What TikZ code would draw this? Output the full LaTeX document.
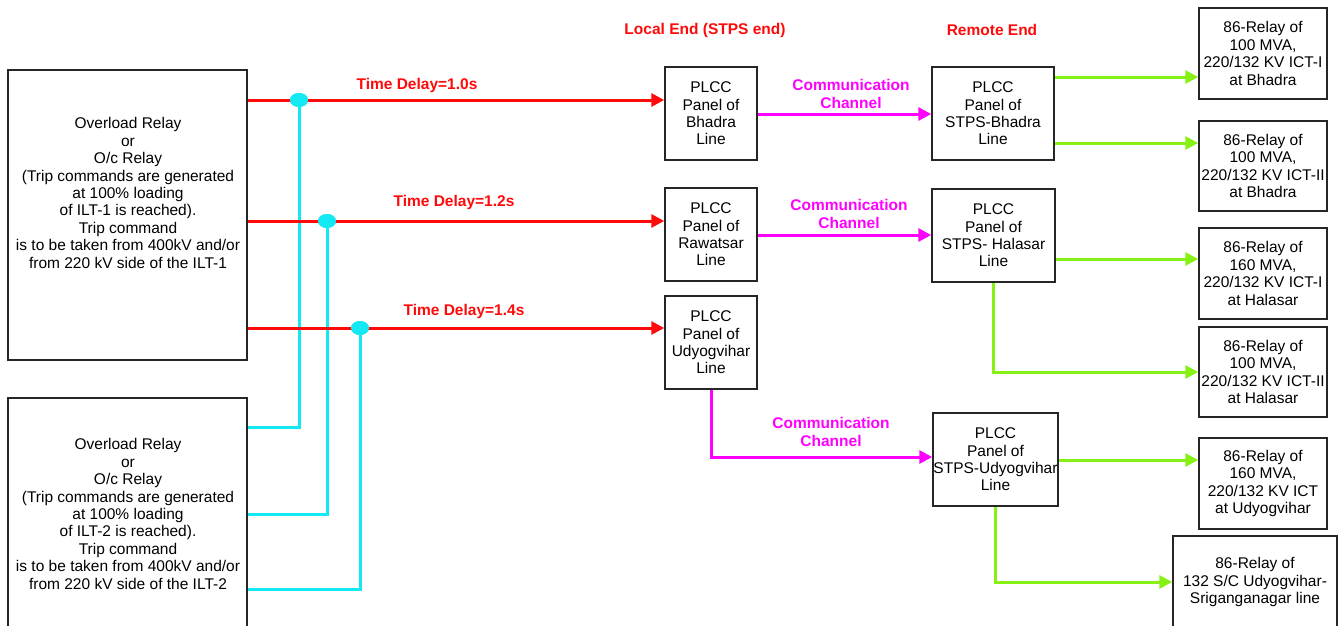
\documentclass[tikz,border=0pt]{standalone}
\usepackage{fontspec}
\setmainfont{Liberation Sans}
\usetikzlibrary{arrows.meta, shapes.geometric}
\tikzset{>={Triangle[width=13pt,length=13pt]}}
\definecolor{tripred}{RGB}{255,10,10}
\definecolor{chanmag}{RGB}{255,0,255}
\definecolor{tripcyan}{RGB}{20,232,242}
\definecolor{tripgreen}{RGB}{135,240,20}
\tikzset{
  box/.style={draw=black!85, line width=1.5pt, align=center, inner sep=0pt,
    font=\fontsize{15.5}{17.4}\selectfont},
  txt/.style={align=center, inner sep=0pt, font=\fontsize{15.5}{17.4}\selectfont},
  tag/.style={align=center, inner sep=0pt, font=\fontsize{15.5}{17.4}\selectfont\bfseries},
  dot/.style={ellipse, fill=tripcyan, minimum width=18pt, minimum height=14pt, inner sep=0pt}
}

\begin{document}
\begin{tikzpicture}[x=1pt, y=-1pt]
    \useasboundingbox (0,0) rectangle (1339,625);

    \node[tag, text=tripred] (local-head) at (705,30) {Local End (STPS end)};
    \node[tag, text=tripred] (remote-head) at (992,30) {Remote End};

    % overload relays
    \node[box, minimum width=239pt, minimum height=290pt] (relay-1) at (127.5,215) {};
    \node[txt] (relay-1-txt) at (128,193) {Overload Relay\\or\\O/c Relay\\(Trip commands are generated\\at 100\% loading\\of ILT-1 is reached).\\Trip command\\is to be taken from 400kV and/or\\from 220 kV side of the ILT-1};
    \node[box, minimum width=239pt, minimum height=250pt] (relay-2) at (127.5,523) {};
    \node[txt] (relay-2-txt) at (128,514) {Overload Relay\\or\\O/c Relay\\(Trip commands are generated\\at 100\% loading\\of ILT-2 is reached).\\Trip command\\is to be taken from 400kV and/or\\from 220 kV side of the ILT-2};

    % local end
    \node[box, minimum width=92pt, minimum height=93pt] (plcc-b) at (711,113.5) {PLCC\\Panel of\\Bhadra\\Line};
    \node[box, minimum width=92pt, minimum height=93pt] (plcc-r) at (711,234.5) {PLCC\\Panel of\\Rawatsar\\Line};
    \node[box, minimum width=92pt, minimum height=93pt] (plcc-u) at (711,342.5) {PLCC\\Panel of\\Udyogvihar\\Line};

    % remote end
    \node[box, minimum width=122pt, minimum height=93pt] (stps-b) at (993,113.5) {PLCC\\Panel of\\STPS-Bhadra\\Line};
    \node[box, minimum width=123pt, minimum height=93pt] (stps-h) at (993.5,235.5) {PLCC\\Panel of\\STPS- Halasar\\Line};
    \node[box, minimum width=125pt, minimum height=93pt] (stps-u) at (995.5,459.5) {PLCC\\Panel of\\STPS-Udyogvihar\\Line};

    % 86 relays
    \node[box, minimum width=128pt, minimum height=91pt] (ict-1) at (1263,53.5) {86-Relay of\\100 MVA,\\220/132 KV ICT-I\\at Bhadra};
    \node[box, minimum width=128pt, minimum height=90pt] (ict-2) at (1263,166) {86-Relay of\\100 MVA,\\220/132 KV ICT-II\\at Bhadra};
    \node[box, minimum width=128pt, minimum height=91pt] (ict-3) at (1263,273.5) {86-Relay of\\160 MVA,\\220/132 KV ICT-I\\at Halasar};
    \node[box, minimum width=128pt, minimum height=90pt] (ict-4) at (1263,372) {86-Relay of\\100 MVA,\\220/132 KV ICT-II\\at Halasar};
    \node[box, minimum width=128pt, minimum height=91pt] (ict-5) at (1263,483.5) {86-Relay of\\160 MVA,\\220/132 KV ICT\\at Udyogvihar};
    \node[box, minimum width=164pt, minimum height=92pt] (line-6) at (1255,582) {86-Relay of\\132 S/C Udyogvihar-\\Sriganganagar line};

    % second relay taps
    \node[dot] (dot-1) at (299,100) {};
    \node[dot] (dot-2) at (327,221) {};
    \node[dot] (dot-3) at (360,328) {};

    \draw[tripcyan, line width=3pt] (dot-1) |- (relay-2.east |- 0,427);
    \draw[tripcyan, line width=3pt] (dot-2) |- (relay-2.east |- 0,514);
    \draw[tripcyan, line width=3pt] (dot-3) |- (relay-2.east |- 0,589);

    \draw[->, tripred, line width=3pt] (relay-1.east |- 0,100) -- (plcc-b.west |- 0,100) node[tag, text=tripred] at (417,85) {Time Delay=1.0s};
    \draw[->, tripred, line width=3pt] (relay-1.east |- 0,221) -- (plcc-r.west |- 0,221) node[tag, text=tripred] at (454,202) {Time Delay=1.2s};
    \draw[->, tripred, line width=3pt] (relay-1.east |- 0,328) -- (plcc-u.west |- 0,328) node[tag, text=tripred] at (464,311) {Time Delay=1.4s};

    \node[dot] at (dot-1) {};
    \node[dot] at (dot-2) {};
    \node[dot] at (dot-3) {};

    % communication channels
    \draw[->, chanmag, line width=3pt] (plcc-b.east |- 0,114) -- (stps-b.west |- 0,114) node[tag, text=chanmag] at (851,94) {Communication\\Channel};
    \draw[->, chanmag, line width=3pt] (plcc-r.east |- 0,235) -- (stps-h.west |- 0,235) node[tag, text=chanmag] at (849,214) {Communication\\Channel};
    \draw[->, chanmag, line width=3pt] (plcc-u.south) |- (stps-u.west |- 0,457) node[tag, text=chanmag] at (831,432) {Communication\\Channel};

    % trip outputs
    \draw[->, tripgreen, line width=3pt] (stps-b.east |- 0,77) -- (ict-1.west |- 0,77);
    \draw[->, tripgreen, line width=3pt] (stps-b.east |- 0,143) -- (ict-2.west |- 0,143);
    \draw[->, tripgreen, line width=3pt] (stps-h.east |- 0,259) -- (ict-3.west |- 0,259);
    \draw[->, tripgreen, line width=3pt] (stps-h.south) |- (ict-4.west);
    \draw[->, tripgreen, line width=3pt] (stps-u.east |- 0,460) -- (ict-5.west |- 0,460);
    \draw[->, tripgreen, line width=3pt] (stps-u.south) |- (line-6.west);

  \end{tikzpicture}
\end{document}
